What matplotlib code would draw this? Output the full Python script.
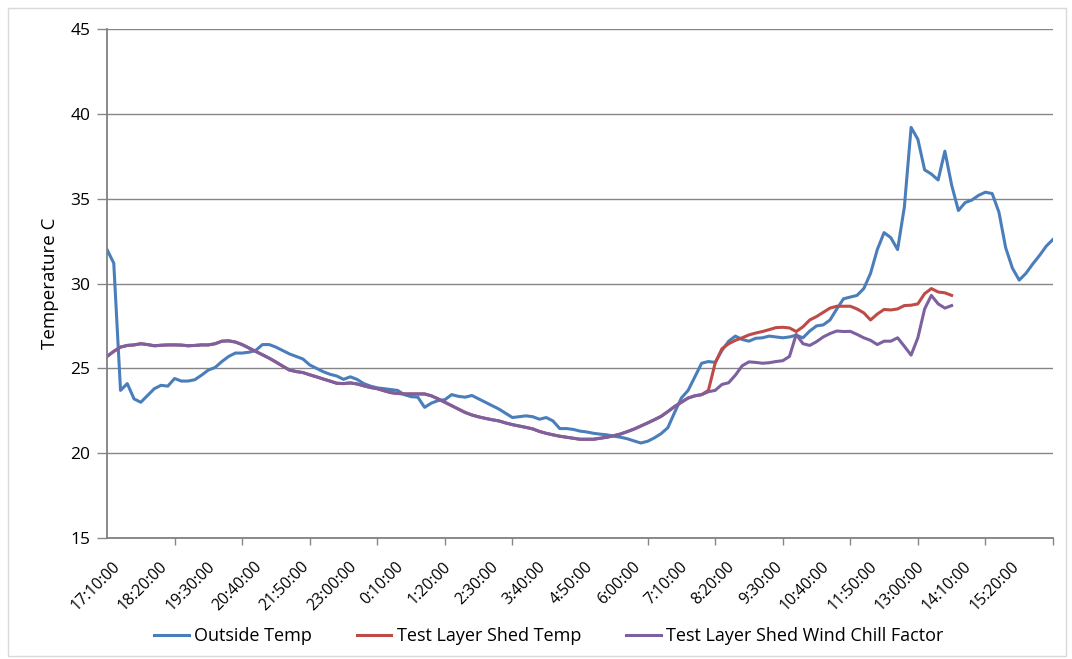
import matplotlib
matplotlib.use("Agg")
import matplotlib.pyplot as plt
from matplotlib.patches import Rectangle
from matplotlib.transforms import ScaledTranslation

plt.rcParams['font.family'] = ['Open Sans', 'DejaVu Sans']

# 10-minute samples starting at 17:10:00
tick_labels = ["17:10:00", "18:20:00", "19:30:00", "20:40:00", "21:50:00", "23:00:00",
               "0:10:00", "1:20:00", "2:30:00", "3:40:00", "4:50:00", "6:00:00",
               "7:10:00", "8:20:00", "9:30:00", "10:40:00", "11:50:00", "13:00:00",
               "14:10:00", "15:20:00"]

outside_temp = [
    32.0, 31.2, 23.7, 24.1, 23.2, 23.0, 23.4, 23.8, 24.0, 23.95,
    24.4, 24.25, 24.25, 24.33, 24.6, 24.9, 25.05, 25.4, 25.7, 25.9,
    25.9, 25.95, 26.05, 26.4, 26.4, 26.25, 26.05, 25.85, 25.7, 25.55,
    25.2, 25.0, 24.8, 24.65, 24.55, 24.35, 24.5, 24.35, 24.1, 23.95,
    23.85, 23.8, 23.75, 23.7, 23.45, 23.33, 23.3, 22.7, 22.95, 23.1,
    23.15, 23.45, 23.35, 23.3, 23.4, 23.2, 23.0, 22.8, 22.6, 22.35,
    22.1, 22.15, 22.2, 22.15, 22.0, 22.1, 21.9, 21.45, 21.45, 21.4,
    21.3, 21.25, 21.17, 21.12, 21.08, 21.0, 20.94, 20.85, 20.72, 20.6,
    20.7, 20.9, 21.15, 21.5, 22.4, 23.25, 23.7, 24.5, 25.3, 25.4,
    25.35, 26.05, 26.6, 26.9, 26.7, 26.6, 26.77, 26.8, 26.9, 26.85,
    26.8, 26.85, 26.95, 26.8, 27.2, 27.5, 27.56, 27.85, 28.5, 29.1,
    29.2, 29.3, 29.7, 30.6, 32.0, 33.0, 32.7, 32.0, 34.5, 39.2,
    38.5, 36.7, 36.45, 36.1, 37.8, 35.8, 34.3, 34.77, 34.92, 35.2,
    35.38, 35.3, 34.2, 32.1, 30.9, 30.2, 30.6, 31.15, 31.65, 32.2,
    32.6]

shed_temp = [
    25.7, 26.0, 26.25, 26.35, 26.38, 26.45, 26.4, 26.33, 26.36, 26.38,
    26.38, 26.37, 26.33, 26.35, 26.38, 26.38, 26.45, 26.6, 26.62, 26.55,
    26.4, 26.2, 26.0, 25.8, 25.6, 25.37, 25.13, 24.9, 24.81, 24.75,
    24.62, 24.5, 24.37, 24.25, 24.12, 24.1, 24.14, 24.08, 23.97, 23.87,
    23.8, 23.68, 23.57, 23.52, 23.49, 23.49, 23.49, 23.49, 23.38, 23.2,
    23.0, 22.8, 22.6, 22.4, 22.25, 22.14, 22.05, 21.97, 21.9, 21.78,
    21.68, 21.6, 21.52, 21.43, 21.28, 21.17, 21.08, 21.0, 20.94, 20.88,
    20.82, 20.82, 20.82, 20.88, 20.94, 21.03, 21.13, 21.27, 21.42, 21.6,
    21.78, 21.97, 22.17, 22.45, 22.75, 23.0, 23.25, 23.38, 23.45, 23.7,
    25.3, 26.15, 26.45, 26.65, 26.8, 26.97, 27.08, 27.17, 27.28, 27.4,
    27.42, 27.38, 27.17, 27.45, 27.85, 28.05, 28.3, 28.55, 28.66, 28.66,
    28.66, 28.5, 28.27, 27.85, 28.2, 28.47, 28.44, 28.5, 28.7, 28.72,
    28.8, 29.4, 29.7, 29.5, 29.45, 29.3]

wind_chill = [
    25.7, 26.0, 26.25, 26.35, 26.38, 26.45, 26.4, 26.33, 26.36, 26.38,
    26.38, 26.37, 26.33, 26.35, 26.38, 26.38, 26.45, 26.6, 26.62, 26.55,
    26.4, 26.2, 26.0, 25.8, 25.6, 25.37, 25.13, 24.9, 24.81, 24.75,
    24.62, 24.5, 24.37, 24.25, 24.12, 24.1, 24.14, 24.08, 23.97, 23.87,
    23.8, 23.68, 23.57, 23.52, 23.49, 23.49, 23.49, 23.49, 23.38, 23.2,
    23.0, 22.8, 22.6, 22.4, 22.25, 22.14, 22.05, 21.97, 21.9, 21.78,
    21.68, 21.6, 21.52, 21.43, 21.28, 21.17, 21.08, 21.0, 20.94, 20.88,
    20.82, 20.82, 20.82, 20.88, 20.94, 21.03, 21.13, 21.27, 21.42, 21.6,
    21.78, 21.97, 22.17, 22.45, 22.75, 23.0, 23.25, 23.38, 23.45, 23.62,
    23.7, 24.05, 24.15, 24.6, 25.15, 25.38, 25.35, 25.3, 25.33, 25.4,
    25.45, 25.7, 27.0, 26.45, 26.35, 26.57, 26.85, 27.05, 27.2, 27.17,
    27.18, 27.0, 26.8, 26.65, 26.4, 26.6, 26.6, 26.8, 26.3, 25.78,
    26.8, 28.5, 29.3, 28.8, 28.55, 28.7]

label_step = 7   # categories between labels
tick_step = 10   # categories between tick marks

fig = plt.figure(figsize=(10.72, 6.59), dpi=100)
fig.patches.append(Rectangle((8 / 1072, 3 / 659), 1058 / 1072, 648 / 659,
                             transform=fig.transFigure, fill=False,
                             edgecolor='#D9D9D9', linewidth=1.0))
ax = fig.add_axes([107 / 1072, 1 - 538 / 659, 946 / 1072, 509 / 659])

ax.plot(range(len(outside_temp)), outside_temp, color='#4A7EBB', lw=2.2,
        label='Outside Temp', solid_joinstyle='round')
ax.plot(range(len(shed_temp)), shed_temp, color='#BE4B48', lw=2.2,
        label='Test Layer Shed Temp', solid_joinstyle='round')
ax.plot(range(len(wind_chill)), wind_chill, color='#7D60A0', lw=2.2,
        label='Test Layer Shed Wind Chill Factor', solid_joinstyle='round')

n = len(outside_temp) - 1
ax.set_xlim(0, n)
ax.set_ylim(15, 45)
ax.set_yticks(range(15, 46, 5))
ax.yaxis.grid(True, color='#868686', lw=1.0)
ax.set_axisbelow(True)

label_pos = list(range(0, label_step * len(tick_labels), label_step))
ax.set_xticks(label_pos)
ax.set_xticklabels(tick_labels, rotation=45, ha='right', va='top',
                   rotation_mode='anchor', fontsize=11.3)
ax.tick_params(axis='x', which='major', length=0, pad=15)
shift = ScaledTranslation(5 / 100, 0, fig.dpi_scale_trans)
for lab in ax.get_xticklabels():
    lab.set_transform(lab.get_transform() + shift)
ax.set_xticks(range(0, n + 1, tick_step), minor=True)
ax.tick_params(axis='x', which='minor', length=5, width=1, color='#868686',
               direction='out')
ax.tick_params(axis='y', length=7, width=1, color='#868686', direction='out',
               labelsize=12.5, pad=5)

for s in ['top', 'right']:
    ax.spines[s].set_visible(False)
for s in ['left', 'bottom']:
    ax.spines[s].set_color('#808080')
    ax.spines[s].set_linewidth(1.3)

ax.set_ylabel('Temperature C', fontsize=13.5, labelpad=8)

fig.legend(loc='center', bbox_to_anchor=(0.512, 1 - 636 / 659), ncol=3,
           frameon=False, fontsize=13, handlelength=1.9, handletextpad=0.3,
           columnspacing=2.5)

fig.savefig('out.png', dpi=100)
